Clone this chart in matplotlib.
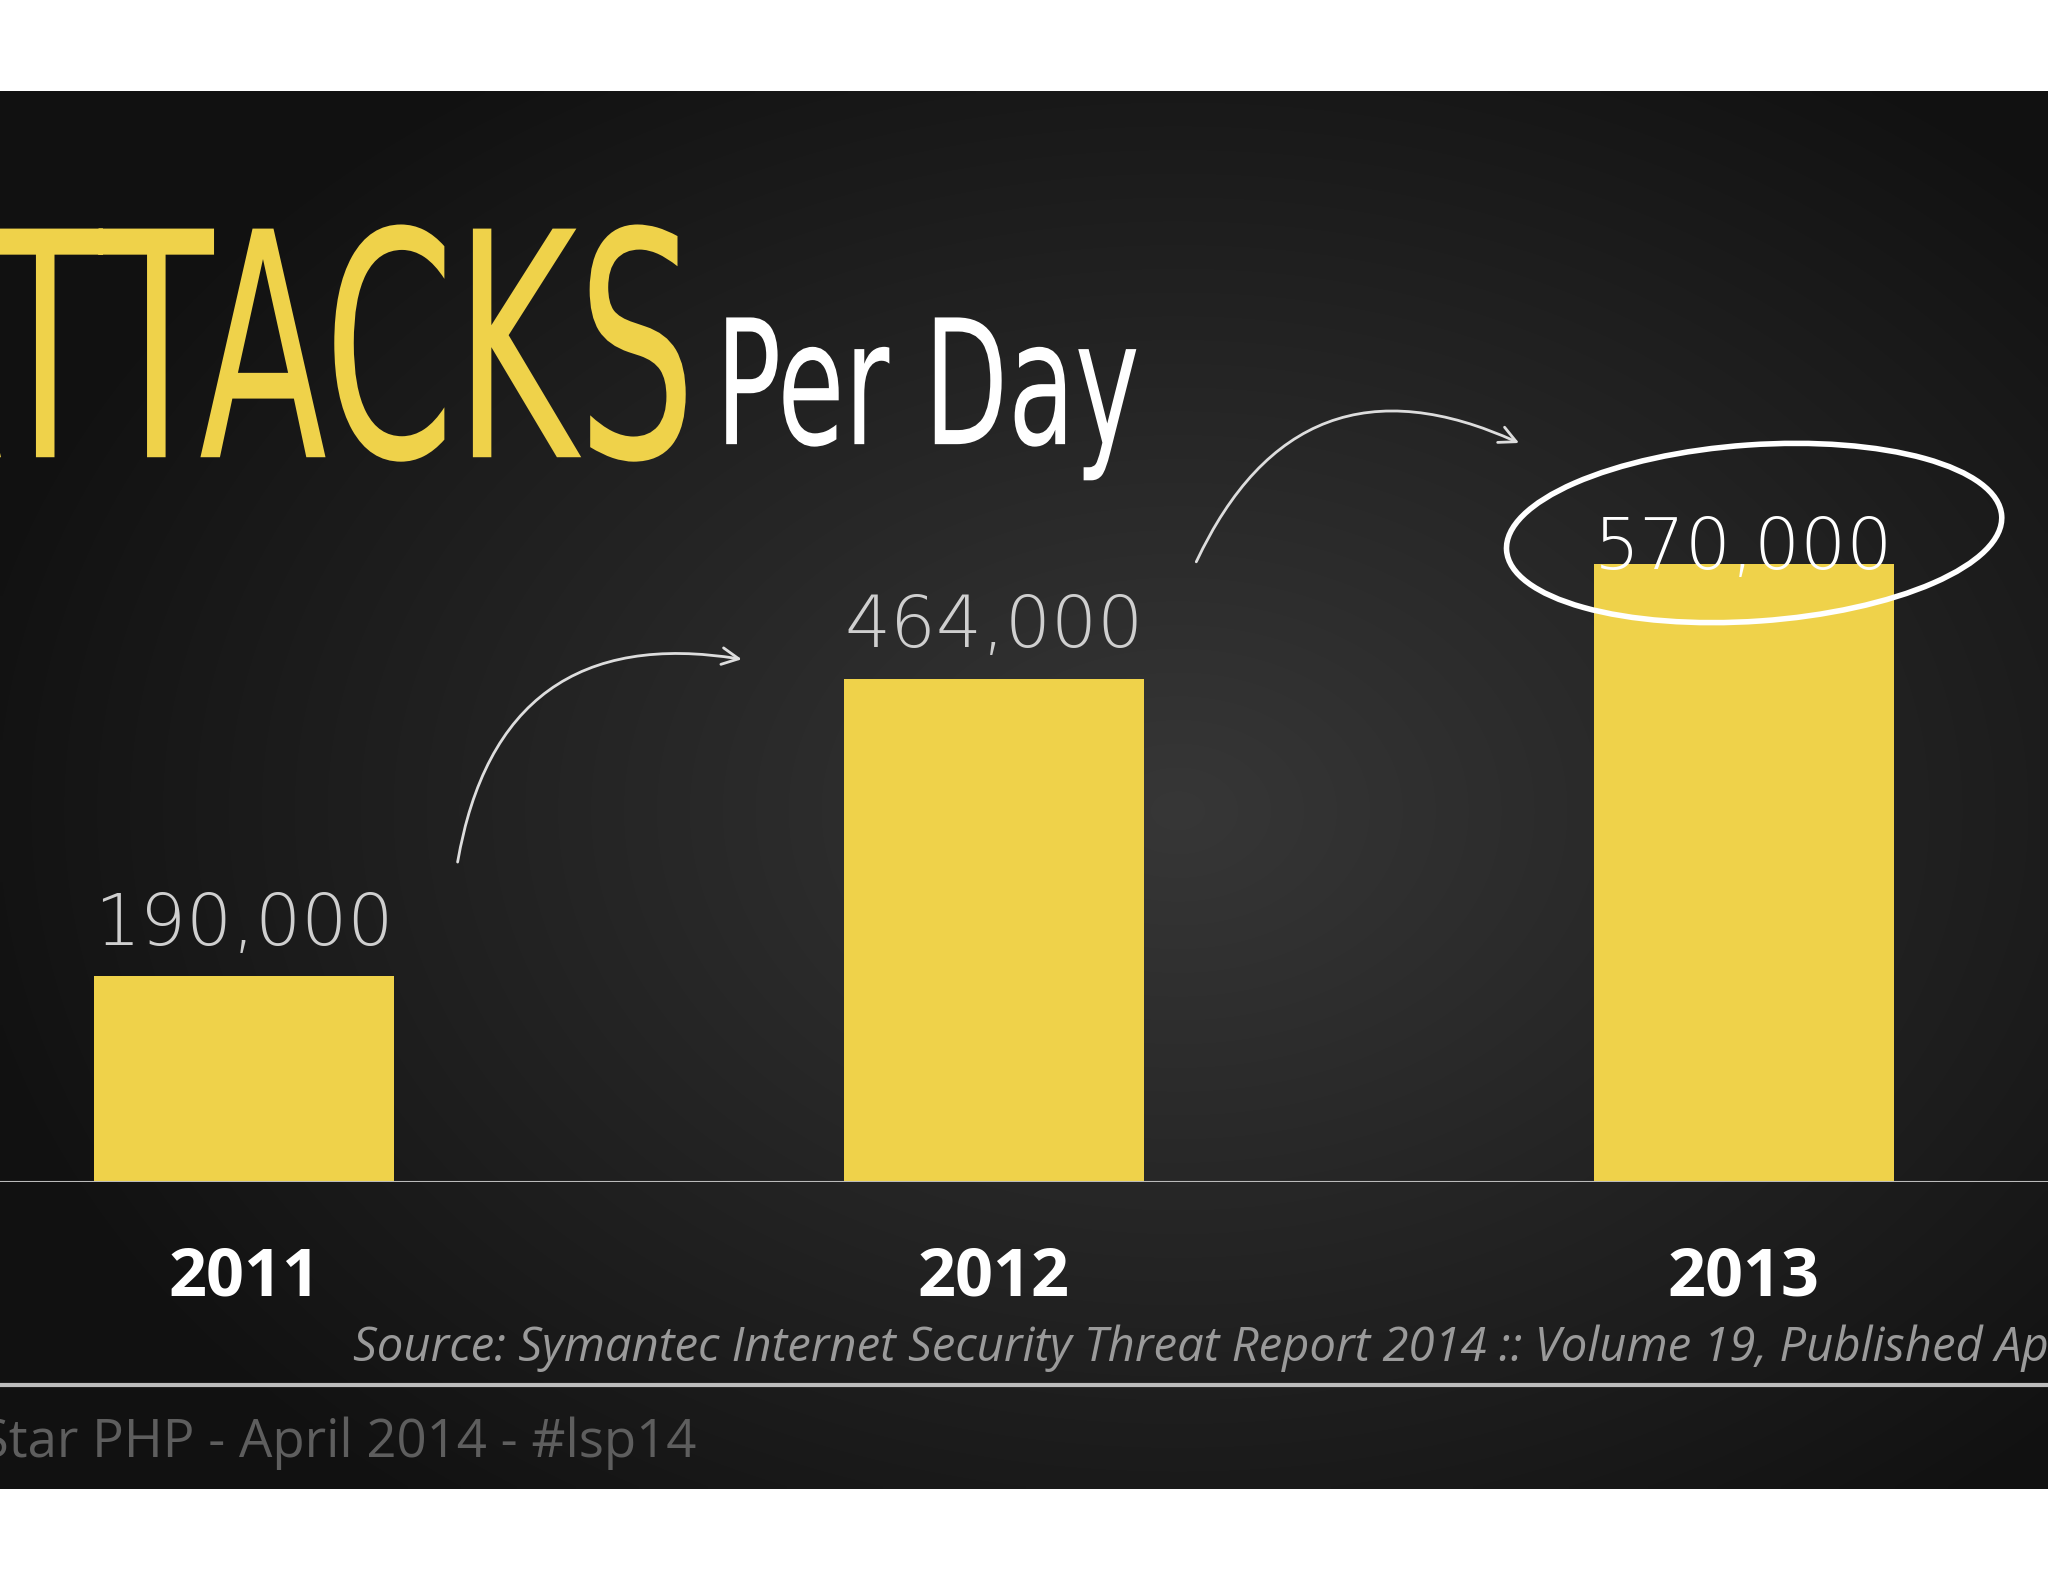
import numpy as np
import matplotlib
matplotlib.use("Agg")
import matplotlib.pyplot as plt
from matplotlib.textpath import TextPath
from matplotlib.font_manager import FontProperties
from matplotlib.patches import PathPatch, Ellipse, FancyArrowPatch
from matplotlib.transforms import Affine2D

years = ["2011", "2012", "2013"]
attacks = [190000, 464000, 570000]
labels = ["190,000", "464,000", "570,000"]
label_offsets = [47000, 48000, 14000]
label_colors = ["#cfcfcf", "#cfcfcf", "#ffffff"]

W, H = 1568, 1211
fig = plt.figure(figsize=(20.48, 15.82), dpi=100)
fig.patch.set_facecolor("white")

bg = fig.add_axes([0, 0, 1, 1], zorder=0)
bg.set_xlim(0, W); bg.set_ylim(H, 0); bg.axis("off")
yy, xx = np.mgrid[70:1140:4, 0:W:4]
r = np.sqrt(((xx - 900) / 900.0) ** 2 + ((yy - 620) / 650.0) ** 2)
v = np.clip(0.215 - 0.14 * r, 0.07, 0.23)
img = np.dstack([v, v, v])
bg.imshow(img, extent=[0, W, 1140, 70], aspect="auto", interpolation="bilinear")

top = 70
base = 905
ax = fig.add_axes([0, 1 - base / H, 1, (base - top) / H], zorder=1)
ax.patch.set_alpha(0)
spacing = 574
c0 = 187
ax.set_xlim(-c0 / spacing, (W - c0) / spacing)
ax.set_ylim(0, (base - top) / 0.83 * 1000)
x = np.arange(len(years))
ax.bar(x, attacks, width=0.4, color="#efd24a", zorder=2)
ax.axhline(0, color="#bbbbbb", lw=1.5, zorder=3)
for xi, val, lab, off, col in zip(x, attacks, labels, label_offsets, label_colors):
    ax.text(xi, val + off, lab, ha="center", va="center", fontsize=52,
            color=col, family="DejaVu Sans", fontweight="light", zorder=4)
ax.axis("off")

ov = fig.add_axes([0, 0, 1, 1], zorder=2)
ov.patch.set_alpha(0)
ov.set_xlim(0, W); ov.set_ylim(H, 0); ov.axis("off")

def path_text(s, xl, yb, cap_h, width, color, weight="normal"):
    tp = TextPath((0, 0), s, size=1, prop=FontProperties(family="DejaVu Sans", weight=weight))
    ext = tp.get_extents()
    sy = cap_h / 0.729
    sx = width / ext.width
    tr = Affine2D().translate(-ext.x0, 0).scale(sx, -sy).translate(xl, yb)
    ov.add_patch(PathPatch(tr.transform_path(tp), facecolor=color, edgecolor="none", zorder=5))

path_text("ATTACKS", -95, 350, 175, 620, "#efd24a")
path_text("Per Day", 556, 340, 97, 314, "white")

ov.add_patch(FancyArrowPatch((350, 662), (570, 505), connectionstyle="arc3,rad=-0.5",
                             arrowstyle="->,head_length=12,head_width=6", color="#dddddd", lw=2))
ov.add_patch(FancyArrowPatch((915, 432), (1165, 340), connectionstyle="arc3,rad=-0.5",
                             arrowstyle="->,head_length=12,head_width=6", color="#dddddd", lw=2))
ov.add_patch(Ellipse((1343, 408), 380, 135, angle=-4, fill=False, ec="white", lw=4, zorder=6))

for xi, yr in zip(x, years):
    ov.text(c0 + xi * spacing, 978, yr, ha="center", va="center", fontsize=48,
            color="white", family="Open Sans", fontweight="bold")

ov.text(270, 1032, "Source: Symantec Internet Security Threat Report 2014 :: Volume 19, Published April 2014",
        ha="left", va="center", fontsize=34, color="#9a9a9a", family="Open Sans", style="italic")
ov.plot([0, W], [1060, 1060], color="#bdbdbd", lw=3)
ov.text(533, 1105, "Lone Star PHP - April 2014 - #lsp14", ha="right", va="center",
        fontsize=38, color="#5e5e5e", family="Open Sans")

fig.savefig("out.png", dpi=100, facecolor="white")
